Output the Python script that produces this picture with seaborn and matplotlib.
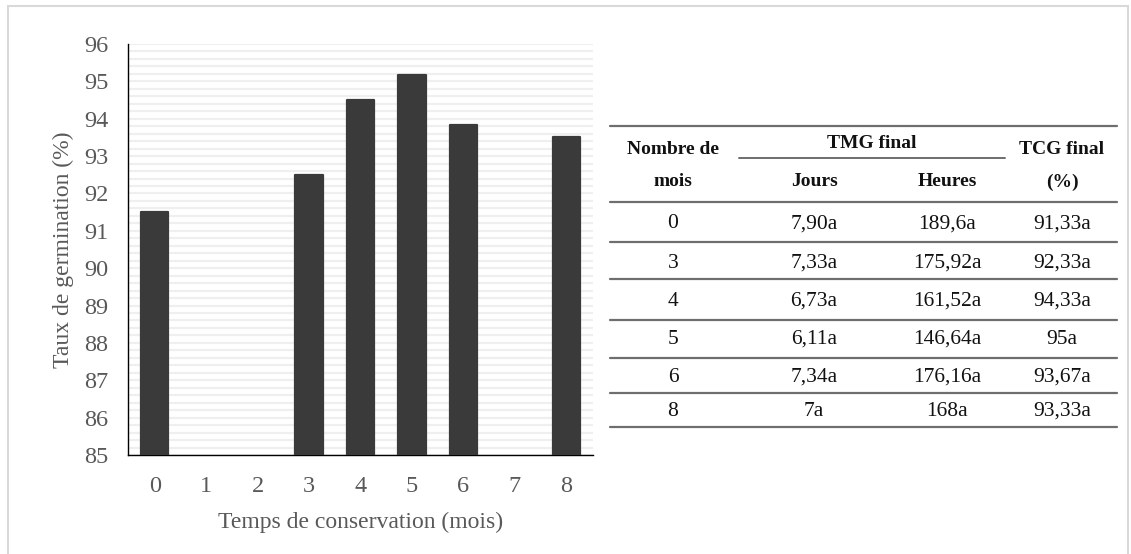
import matplotlib
matplotlib.use("Agg")
import matplotlib.pyplot as plt
import seaborn as sns
import pandas as pd
import numpy as np
from matplotlib.lines import Line2D
from matplotlib.patches import Rectangle

# ---- data ----
months = [0, 3, 4, 5, 6, 8]
germination = [91.5, 92.5, 94.5, 95.17, 93.83, 93.5]
month_order = [0, 1, 2, 3, 4, 5, 6, 7, 8]

table_months = ["0", "3", "4", "5", "6", "8"]
tmg_jours = ["7,90a", "7,33a", "6,73a", "6,11a", "7,34a", "7a"]
tmg_heures = ["189,6a", "175,92a", "161,52a", "146,64a", "176,16a", "168a"]
tcg_final = ["91,33a", "92,33a", "94,33a", "95a", "93,67a", "93,33a"]

sns.set_theme(style="white")
plt.rcParams['font.family'] = ['Liberation Serif', 'DejaVu Serif']

W, H = 1131, 554
fig = plt.figure(figsize=(W / 100, H / 100), dpi=100)

def fx(px):
    return px / W

def fy(py):
    return 1 - py / H

# outer border
fig.patches.append(Rectangle((fx(8), fy(560)), fx(1128) - fx(8), fy(6) - fy(560),
                             transform=fig.transFigure, fill=False,
                             edgecolor="#d9d9d9", linewidth=1.5))

ax = fig.add_axes([fx(128), fy(455), fx(593) - fx(128), fy(44) - fy(455)])
df = pd.DataFrame({"mois": months, "taux": germination})
bar_color = "#3a3a3a"
sns.barplot(data=df, x="mois", y="taux", order=month_order, color=bar_color,
            width=0.53, ax=ax, saturation=1)
for p in ax.patches:
    p.set_edgecolor(bar_color)
    p.set_linewidth(1.6)
    p.set_joinstyle("round")
    p.set_zorder(3)

ax.set_ylim(85, 96)
ax.set_xlim(-0.52, 8.52)
ax.set_yticks(np.arange(85, 97, 1))
ax.set_yticks(np.arange(85, 96.01, 0.2), minor=True)
ax.yaxis.grid(True, which="both", color="#efefef", linewidth=1.6)
ax.set_axisbelow(True)
ax.xaxis.grid(False)
for s in ["top", "right"]:
    ax.spines[s].set_visible(False)
ax.spines["left"].set_color("black")
ax.spines["bottom"].set_color("black")
ax.spines["left"].set_linewidth(1.0)
ax.spines["bottom"].set_linewidth(1.0)
ax.tick_params(axis="both", which="both", length=0, colors="#595959", labelsize=17.5)
ax.tick_params(axis="x", pad=15)
ax.tick_params(axis="y", pad=14)
ax.set_xlabel("Temps de conservation (mois)", fontsize=17, color="#595959", labelpad=11)
ax.set_ylabel("Taux de germination (%)", fontsize=17, color="#595959", labelpad=7)

# ---- table ----
line_col = "#6e6e6e"
def hline(y, x0=610, x1=1117, lw=1.6):
    fig.add_artist(Line2D([fx(x0), fx(x1)], [fy(y), fy(y)], transform=fig.transFigure,
                          color=line_col, linewidth=lw))

col_x = [673, 814, 947, 1062]
hdr_kw = dict(fontsize=14, fontweight="bold", ha="center", va="center", color="#111111")
fig.text(fx(col_x[0]), fy(149), "Nombre de", **hdr_kw)
fig.text(fx(col_x[0]), fy(182), "mois", **hdr_kw)
fig.text(fx(872), fy(144), "TMG final", **hdr_kw)
fig.text(fx(col_x[1]), fy(182), "Jours", **hdr_kw)
fig.text(fx(col_x[2]), fy(182), "Heures", **hdr_kw)
fig.text(fx(col_x[3]), fy(149), "TCG final", **hdr_kw)
fig.text(fx(col_x[3]), fy(182), "(%)", **hdr_kw)

hline(126)
hline(158, 739, 1005, lw=1.4)
hline(202)

row_y = [224, 263, 301, 339, 377, 411]
line_y = [242, 279, 320, 358, 393, 427]
body_kw = dict(fontsize=15.5, ha="center", va="center", color="#111111")
for i in range(len(table_months)):
    vals = [table_months[i], tmg_jours[i], tmg_heures[i], tcg_final[i]]
    for x, v in zip(col_x, vals):
        fig.text(fx(x), fy(row_y[i]), v, **body_kw)
    hline(line_y[i])

fig.savefig("out.png", dpi=100)
